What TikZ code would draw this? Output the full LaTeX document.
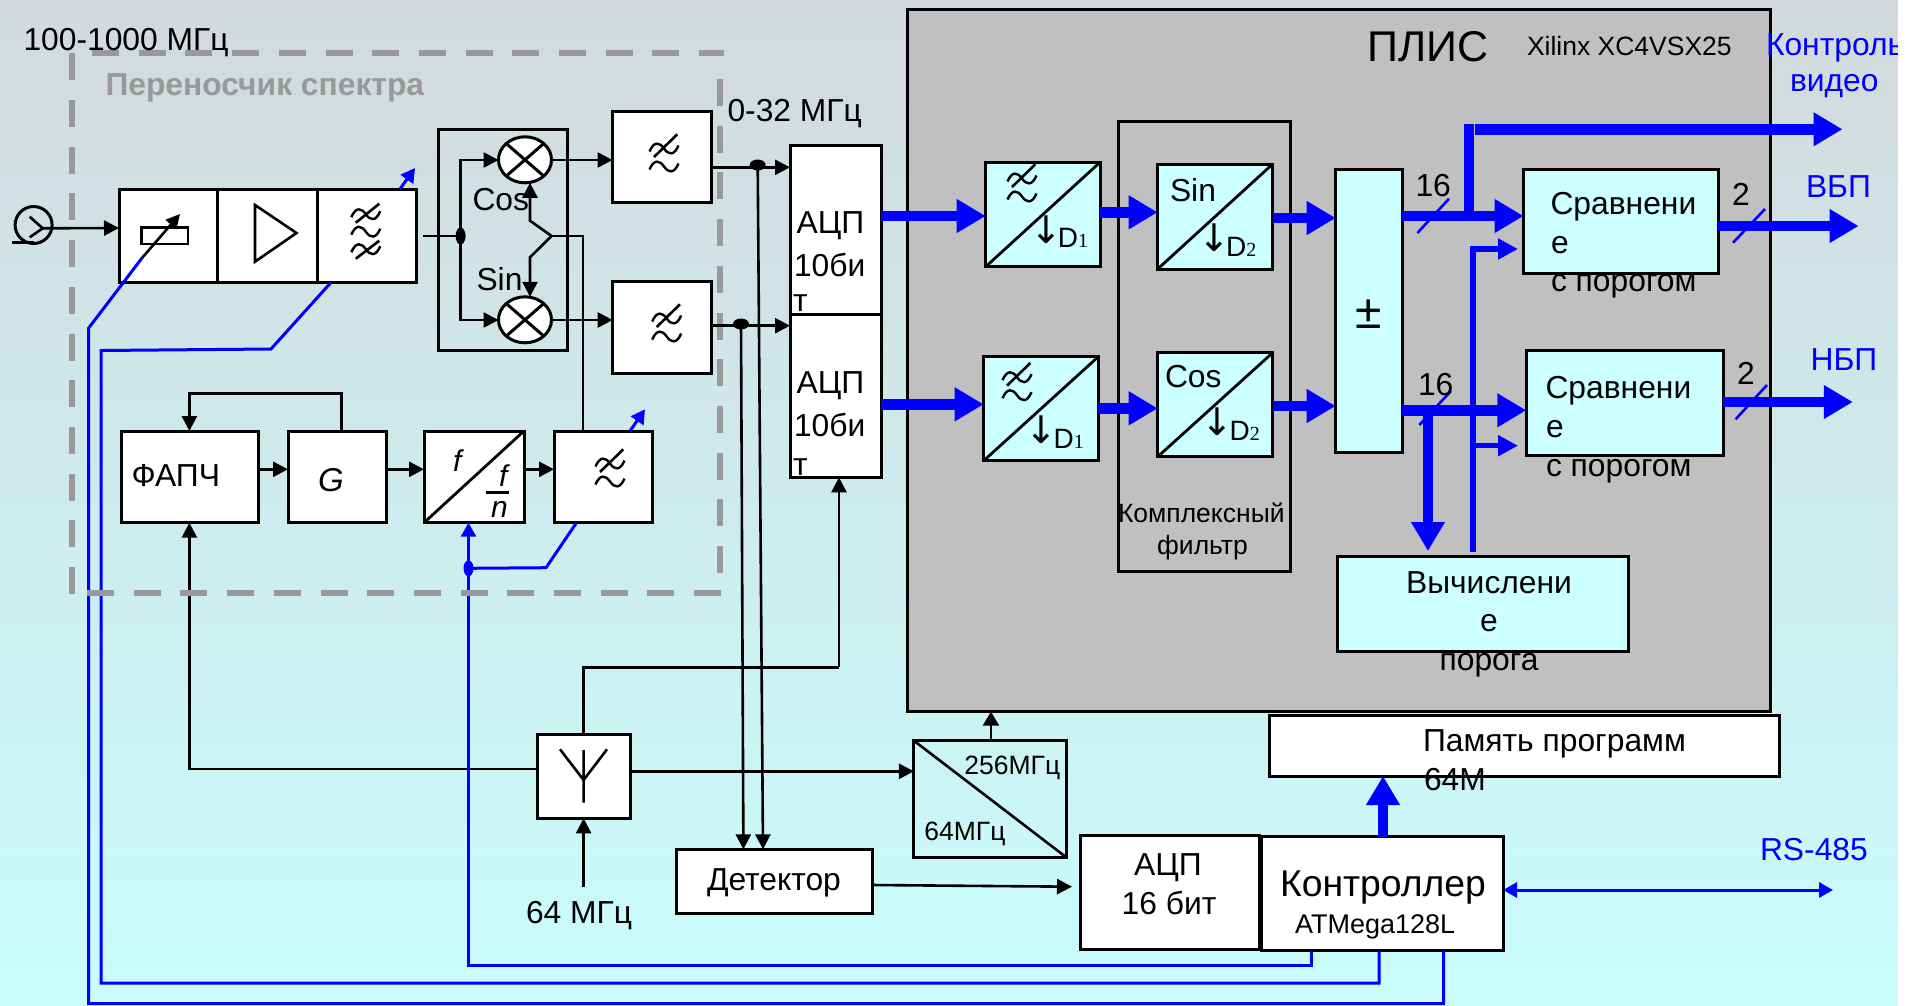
\documentclass[tikz,border=0pt]{standalone}
\usepackage{fontspec}
\setmainfont{Liberation Sans}
\newfontfamily\serifdig{Liberation Serif}
\newfontfamily\arrowfont{DejaVu Sans}
\usetikzlibrary{arrows.meta,fit,shapes.geometric}
\definecolor{cyanbox}{HTML}{CCFFFF}
\definecolor{plisgray}{HTML}{C0C0C0}
\definecolor{dashgray}{HTML}{999999}
\definecolor{bgtop}{RGB}{211,217,220}
\definecolor{bgbot}{RGB}{201,253,253}
\newcommand{\downD}[1]{{\arrowfont\fontsize{38}{40}\selectfont\raisebox{4.5pt}{↓}}\kern-4pt D{\serifdig\fontsize{20}{24}\selectfont #1}}
\tikzset{
  box/.style={draw=black,line width=3pt,fill=white,inner sep=0pt,outer sep=0pt,rectangle},
  cbox/.style={box,fill=cyanbox},
  conn/.style={draw=black,line width=2.6pt},
  arr/.style={conn,-{Triangle[length=15pt,width=15pt]}},
  bluel/.style={draw=blue,line width=3pt},
  bluearr/.style={bluel,-{Triangle[length=14pt,width=15pt]}},
  fat/.style={draw=blue,line width=10.5pt,-{Triangle[length=29pt,width=32pt]}},
  midfat/.style={draw=blue,line width=5.5pt,-{Triangle[length=20pt,width=20pt]}},
  tick/.style={draw=blue,line width=2.6pt},
  dashl/.style={draw=dashgray,line width=6pt,dash pattern=on 27pt off 19.7pt},
  txt/.style={inner sep=0pt,outer sep=0pt,anchor=base west,font=\fontsize{31.8}{36}\selectfont},
  txtc/.style={txt,anchor=base},
  small/.style={txt,font=\fontsize{26.5}{32}\selectfont},
  smallc/.style={small,anchor=base},
  bluet/.style={txt,text=blue},
  dlab/.style={txt,font=\fontsize{28}{32}\selectfont},
  jdot/.style={ellipse,fill=black,inner sep=0pt,outer sep=0pt},
  mix/.style={ellipse,draw=black,line width=3pt,fill=white,inner sep=0pt,outer sep=0pt,minimum width=53pt,minimum height=46pt},
  pics/wave/.style={code={
    \draw[line width=2.4pt] (-14.5,3) .. controls (-10,-7.5) and (-4.5,-6.5) .. (0,0) .. controls (4.5,6.5) and (10,7.5) .. (14.5,-3);
  }},
  pics/lpf/.style={code={
    \pic at (0,-8.5) {wave};
    \pic at (0,9.5) {wave};
    \draw[line width=2.6pt] (-10,0) -- (13.3,-22.7);
  }},
  pics/lpfthree/.style={code={
    \pic at (0,-17.5) {wave};
    \pic at (0,0) {wave};
    \pic at (0,17.5) {wave};
    \draw[line width=2.6pt] (-10,-9) -- (13.5,-28);
    \draw[line width=2.6pt] (-10,27) -- (13.5,9);
  }},
}
\begin{document}
\begin{tikzpicture}[x=1pt,y=-1pt]
\useasboundingbox (0,0) rectangle (1919,1005);
% background
\shade[top color=bgtop,bottom color=bgbot] (0,0) rectangle (1898,1005);
% FPGA
\node[box,fill=plisgray,fit={(907,9.3) (1770.6,711.7)}] (plis) {};
\node[draw=black,line width=3pt,inner sep=0pt,outer sep=0pt,fit={(1118.7,121.7) (1290.7,571.7)}] (cfilt) {};

% source
\node[circle,draw=black,line width=3pt,minimum size=37pt,inner sep=0pt,outer sep=0pt] (src) at (33.6,225) {};
\coordinate (srcv) at (42.7,228.3);
\draw[line width=2.6pt] (29.7,216.7) -- (srcv) -- (29.7,237.3);
\draw[line width=2.6pt] (12,242.7) -- (33.6,242.7);

% RF chain
\node[box,fit={(119,189) (217,282)}] (a1) {};
\node[box,fit={(217,189) (317,282)}] (a2) {};
\node[box,fit={(317,189) (416,282)}] (a3) {};
\node[box,line width=2.6pt,fit={(141.6,227.7) (188,244)}] (attr) {};
\draw[line width=2.6pt] (255,205) -- (296.5,233) -- (255,261.7) -- cycle;
\pic at (365.8,231.7) {lpfthree};

% mixers
\node[draw=black,line width=3pt,inner sep=0pt,outer sep=0pt,fit={(438,129) (567.4,350)}] (mixb) {};
\node[mix] (m1) at (525,159.8) {};
\node[mix] (m2) at (525,319.8) {};
\draw[line width=3pt] (m1.north west) -- (m1.south east) (m1.north east) -- (m1.south west);
\draw[line width=3pt] (m2.north west) -- (m2.south east) (m2.north east) -- (m2.south west);

% baseband filters
\node[box,fit={(612.5,111) (711.7,202.7)}] (f1) {};
\node[box,fit={(612.7,281.7) (711.7,373.3)}] (f2) {};
\pic at (664,157) {lpf};
\pic at (666.7,327) {lpf};

% ADC
\node[box,fit={(790,145.3) (881,314)}] (adc1) {};
\node[box,fit={(790,314) (881,477.3)}] (adc2) {};

% PLL chain
\node[box,fit={(121,431) (258,522.7)}] (fapch) {};
\node[box,fit={(288,431) (386.7,522.7)}] (gen) {};
\node[box,fit={(424,431) (524,522.7)}] (fdiv) {};
\node[box,fit={(554,431) (652.8,522.7)}] (f3) {};
\draw[line width=2.8pt] (fdiv.south west) -- (fdiv.north east);
\pic at (610,472) {lpf};

% clock, detector, slow ADC, controller, memory
\node[box,fit={(537,734) (630,818.3)}] (synth) {};
\draw[line width=2.6pt] (560,749.3) -- (583.6,780) -- (607,749.3) (583.6,750) -- (583.6,802.7);
\node[box,fill=none,fit={(913.9,740.7) (1066.8,857.7)}] (clk) {};
\draw[line width=2.6pt] (clk.north west) -- (clk.south east);
\node[box,fit={(676.8,849.3) (872.5,913.3)}] (det) {};
\node[box,fit={(1080,835.7) (1259,949)}] (adc3) {};
\node[box,fit={(1261,836.7) (1503,950.7)}] (ctrl) {};
\node[box,fit={(1269.8,715) (1779,776)}] (mem) {};

% FPGA blocks
\node[cbox,fit={(985.7,162.3) (1100,266.7)}] (d1a) {};
\node[cbox,fit={(983.7,356.7) (1098.3,460.7)}] (d1b) {};
\node[cbox,fit={(1157.7,164) (1272.7,269)}] (sinb) {};
\node[cbox,fit={(1157.7,352.7) (1272.7,456.7)}] (cosb) {};
\draw[line width=2.8pt] (d1a.south west) -- (d1a.north east) (d1b.south west) -- (d1b.north east) (sinb.south west) -- (sinb.north east) (cosb.south west) -- (cosb.north east);
\pic at (1022,187) {lpf};
\pic at (1017,385.7) {lpf};
\node[cbox,fit={(1335.7,169) (1402,452.7)}] (sum) {};
\node[cbox,fit={(1523.6,169) (1718,273.3)}] (cmp1) {};
\node[cbox,fit={(1526.3,350.7) (1723.4,455)}] (cmp2) {};
\node[cbox,fit={(1337.7,556.7) (1628.7,651.7)}] (thr) {};

% black connectors
\draw[arr] (srcv) -- (a1.west |- 0,228);
\draw[conn] (423,236) -- (460.6,236);
\node[jdot,minimum width=10pt,minimum height=17pt] (j0) at (460.6,236) {};
\draw[arr] (j0.center) -- (460.6,160) -- (m1.west |- 0,160);
\draw[arr] (j0.center) -- (460.6,320) -- (m2.west |- 0,320);
\coordinate (cw) at (551.6,236);
\draw[conn] (582.8,0 |- f3.north) -- (582.8,236) -- (cw);
\draw[arr] (cw) -- (530,220.7) -- (m1.south -| 530,0);
\draw[arr] (cw) -- (530,257.3) -- (m2.north -| 530,0);
\draw[arr] (m1.east |- 0,160) -- (f1.west |- 0,160);
\draw[arr] (m2.east |- 0,320) -- (f2.west |- 0,320);

\draw[arr] (fapch.east |- 0,469.3) -- (gen.west |- 0,469.3);
\draw[arr] (gen.east |- 0,469.3) -- (fdiv.west |- 0,469.3);
\draw[arr] (fdiv.east |- 0,469.3) -- (f3.west |- 0,469.3);
\draw[arr] (341.2,0 |- gen.north) -- (341.2,393.3) -- (189.4,393.3) -- (189.4,0 |- fapch.north);
\draw[arr] (synth.west |- 0,769) -- (189.4,769) -- (189.4,0 |- fapch.south);

\draw[conn] (583.6,0 |- synth.north) -- (583.6,667.3) -- (839,667.3);
\draw[arr] (839,667.3) -- (839,0 |- adc2.south);
\coordinate (in64) at (583.6,886.7);
\draw[arr] (in64) -- (583.6,0 |- synth.south);
\draw[arr] (synth.east |- 0,771.3) -- (clk.west |- 0,771.3);
\draw[conn,-{Triangle[length=14pt,width=16pt]}] (991,0 |- clk.north) -- (991,0 |- plis.south);
\draw[arr] (det.east |- 0,885) -- (1072,886.7);

% detector taps
\node[jdot,minimum width=16pt,minimum height=11pt] (j1) at (757.7,165) {};
\node[jdot,minimum width=16pt,minimum height=11pt] (j2) at (741,324) {};
\draw[arr] (j1.center) -- (763,0 |- det.north);
\draw[arr] (j2.center) -- (743.4,0 |- det.north);
\draw[arr] (f1.east |- 0,167.3) -- (adc1.west |- 0,167.3);

% blue control lines
\coordinate (vr) at (142,258);
\draw[bluel] (1443.5,0 |- ctrl.south) -- (1443.5,1003.5) -- (88.7,1003.5) -- (88.7,328) -- (vr);
\draw[conn,-{Triangle[length=14pt,width=14pt]}] (vr) -- (180,214);
\draw[bluel] (331.4,0 |- a3.south) -- (271,349) -- (101,350.5) -- (101,983) -- (1379,983) -- (1379,0 |- ctrl.south);
\draw[bluearr] (1311.6,0 |- ctrl.south) -- (1311.6,965.7) -- (468.5,965.7) -- (468.5,0 |- fdiv.south);
\node[jdot,fill=blue,minimum width=10pt,minimum height=16pt] (jb) at (468.5,568.3) {};
\draw[bluel] (576.5,0 |- f3.south) -- (546,567.7) -- (jb.center);
\draw[bluearr] (400,0 |- a3.north) -- (415,168);
\draw[bluearr] (630,0 |- f3.north) -- (645,409.3);
\coordinate (rs) at (1833,890);
\draw[bluel,{Triangle[length=14pt,width=15pt]}-{Triangle[length=14pt,width=15pt]}] (ctrl.east |- rs) -- (rs);

% dashed frame
\draw[dashl] (92,53) -- (724,53);
\draw[dashl] (71.6,53.3) -- (71.6,594);
\draw[dashl] (720,79) -- (720,573);
\draw[dashl] (87,593.3) -- (722,593.3);
\draw[arr] (f2.east |- 0,325.7) -- (adc2.west |- 0,325.7);

% fat data arrows
\draw[fat] (adc1.east |- 0,216) -- (d1a.west |- 0,216);
\draw[fat] (adc2.east |- 0,404.3) -- (d1b.west |- 0,404.3);
\draw[fat] (d1a.east |- 0,212.3) -- (sinb.west |- 0,212.3);
\draw[fat] (d1b.east |- 0,408.3) -- (cosb.west |- 0,408.3);
\draw[fat] (sinb.east |- 0,218) -- (sum.west |- 0,218);
\draw[fat] (cosb.east |- 0,406) -- (sum.west |- 0,406);
\draw[fat] (sum.east |- 0,216) -- (cmp1.west |- 0,216);
\draw[fat] (sum.east |- 0,410.3) -- (cmp2.west |- 0,410.3);
\draw[draw=blue,line width=10pt] (1469.4,216) -- (1469.4,124.3);
\coordinate (vid) at (1842.5,129.3);
\draw[fat] (1474.7,129.3) -- (vid);
\coordinate (vbp) at (1858.6,226);
\draw[fat] (cmp1.east |- vbp) -- (vbp);
\coordinate (nbp) at (1852.8,402);
\draw[fat] (cmp2.east |- nbp) -- (nbp);
\draw[fat] (1428,410.3) -- (1428,551);
\draw[fat] (1383,0 |- ctrl.north) -- (1383,0 |- mem.south);
\coordinate (thrtop) at (1473,551.7);
\draw[draw=blue,line width=5.5pt] (thrtop) -- (1473,246);
\draw[midfat] (1470.5,249) -- (1518,249);
\draw[midfat] (1473,445.7) -- (1518,445.7);
\draw[tick] (1417.4,233) -- (1449,198.7);
\draw[tick] (1419.3,425) -- (1451,391);
\draw[tick] (1733,242.7) -- (1765,209);
\draw[tick] (1735.6,419.3) -- (1767,385);

% texts
\node[txt] (t1) at (23.5,50) {100-1000 МГц};
\node[txt,text=dashgray,font=\fontsize{31.8}{36}\selectfont\bfseries] (t2) at (105.5,95) {Переносчик спектра};
\node[txt] (t3) at (727.5,121.7) {0-32 МГц};
\node[txt] (t4) at (472.5,210) {Cos};
\node[txt] (t5) at (476.5,290.7) {Sin};
\node[txt] (t6) at (131.6,486.7) {ФАПЧ};
\node[txt,font=\fontsize{33}{36}\selectfont\itshape] (t7) at (318,491.7) {G};
\node[txt,font=\fontsize{30}{36}\selectfont\itshape] (t8) at (453,471.7) {f};
\node[txt,font=\fontsize{30}{36}\selectfont\itshape] (t9) at (499,486.7) {f};
\draw[line width=2.6pt] (485.5,492.7) -- (508.5,492.7);
\node[txt,font=\fontsize{30}{36}\selectfont\itshape] (t10) at (491,517.3) {n};
\node[txt] (t11) at (796.7,233) {АЦП};
\node[txt] (t12) at (794,276.7) {10би};
\node[txt] (t13) at (793,311.7) {т};
\node[txt] (t14) at (796.7,393.3) {АЦП};
\node[txt] (t15) at (794,436.7) {10би};
\node[txt] (t16) at (793,475.7) {т};
\node[txt] (t17) at (526,923.3) {64 МГц};
\node[txt] (t18) at (707,890.7) {Детектор};
\node[small] (t19) at (964.4,774) {256МГц};
\node[small] (t20) at (924.4,840) {64МГц};
\node[txtc] (t21) at (1168,875.7) {АЦП};
\node[txtc] (t22) at (1169,914) {16 бит};
\node[txt,font=\fontsize{37.3}{40}\selectfont] (t23) at (1280,896.7) {Контроллер};
\node[txt,font=\fontsize{27}{32}\selectfont] (t24) at (1295,933) {ATMega128L};
\node[txt] (t25) at (1423,751.7) {Память программ};
\node[txt] (t26) at (1424,790) {64М};
\node[txt,font=\fontsize{43}{46}\selectfont] (t27) at (1367.5,61.7) {ПЛИС};
\node[small] (t28) at (1527,55) {Xilinx XC4VSX25};
\node[bluet] (t29) at (1766,55) {Контроль};
\node[bluet] (t30) at (1790,91.7) {видео};
\node[bluet] (t31) at (1806,197.3) {ВБП};
\node[bluet] (t32) at (1810.6,370.7) {НБП};
\node[bluet] (t33) at (1760,860) {RS-485};
\node[txt] (t34) at (1170,201.7) {Sin};
\node[txt] (t35) at (1165,387.3) {Cos};
\node[dlab] (t36) at (1030,247.7) {\downD{1}};
\node[dlab] (t37) at (1025.7,448.3) {\downD{1}};
\node[dlab] (t38) at (1198.3,256) {\downD{2}};
\node[dlab] (t39) at (1201.7,440) {\downD{2}};
\node[small] (t40) at (1118,522.7) {Комплексный};
\node[smallc] (t41) at (1202.5,554) {фильтр};
\node[txt,font=\fontsize{48}{52}\selectfont] (t42) at (1355,328) {±};
\node[txt] (t43) at (1415.5,196.7) {16};
\node[txt] (t44) at (1418,395.7) {16};
\node[txt] (t45) at (1732,205.7) {2};
\node[txt] (t46) at (1737,384) {2};
\node[txt] (t47) at (1550.5,214.3) {Сравнени};
\node[txt] (t48) at (1551,253.3) {е};
\node[txt] (t49) at (1551,291.7) {с порогом};
\node[txt] (t50) at (1545.5,398.3) {Сравнени};
\node[txt] (t51) at (1546,437.7) {е};
\node[txt] (t52) at (1546,476.7) {с порогом};
\node[txtc] (t53) at (1489,593.3) {Вычислени};
\node[txtc] (t54) at (1489,631.7) {е};
\node[txtc] (t55) at (1489,670) {порога};
% right margin
\fill[white] (1898,0) rectangle (1919,1005);
\end{tikzpicture}
\end{document}
